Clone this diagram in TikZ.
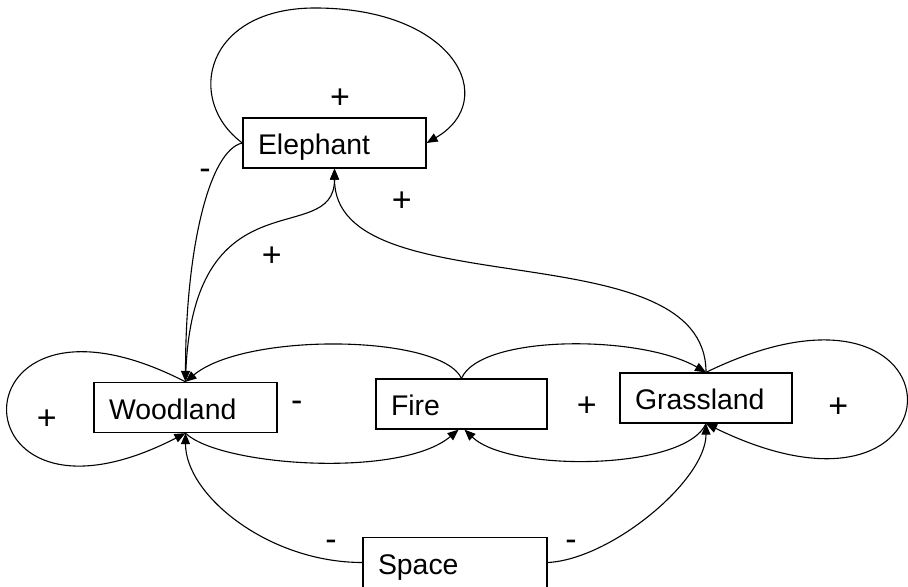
\documentclass[tikz,border=0pt]{standalone}
\usepackage{fontspec}
\setsansfont{Liberation Sans}
\usetikzlibrary{arrows.meta}

\tikzset{
  stock/.style={draw, line width=0.65pt, rectangle, minimum height=25pt,
    inner xsep=7.5pt, inner ysep=0pt, text height=13.5pt, text depth=2pt,
    align=left, text width=#1},
  link/.style={-{Triangle[length=5.5pt, width=4.5pt]}, line width=0.55pt},
  sign/.style={inner sep=0pt, font=\sffamily\fontsize{17}{20}\selectfont}
}

\begin{document}
\begin{tikzpicture}[x=0.5pt, y=-0.5pt,
    every node/.style={font=\sffamily\fontsize{14.2}{17}\selectfont}]
  \useasboundingbox (0,0) rectangle (908,587);

  % Nodes
  \node[stock=76.5pt] (eleph) at (334.5,143)   {Elephant};
  \node[stock=76.5pt] (wood)  at (185.5,407.5) {Woodland};
  \node[stock=70.5pt] (fire)  at (461.5,404)   {Fire};
  \node[stock=71pt]   (grass) at (706,398)     {Grassland};
  \node[stock=77pt]   (space) at (455,562.5)   {Space};
  \coordinate (etop) at (315,8);

  % Elephant loop
  \draw[link] (eleph.west) .. controls +(-58,-43) and +(-110,0) .. (etop)
    .. controls +(140,0) and +(74,-43) .. (eleph.east);
  \node[sign] (pE) at (340,99) {+};

  % Elephant and woodland
  \draw[link] (eleph.west) .. controls +(-33,7) and +(0,-133) .. (wood.north);
  \node[sign] (mEW) at (205,174) {-};
  \draw[link] (wood.north) .. controls +(4,-213) and +(0,82) .. (eleph.south);
  \node[sign] (pWE) at (271.7,257) {+};

  % Grassland to elephant
  \draw[link] (grass.north) .. controls +(0,-144) and +(0,140) .. (eleph.south);
  \node[sign] (pGE) at (401.7,201.3) {+};

  % Woodland loop
  \draw[link] (wood.north) .. controls +(-237,-122) and +(-237,122) .. (wood.south);
  \node[sign] (pW) at (46.7,419.3) {+};

  % Fire and woodland
  \draw[link] (fire.north) .. controls +(-21,-44) and +(60,-50) .. (wood.north);
  \draw[link] (wood.south) .. controls +(34,33) and +(-58,49) .. ([xshift=-1.5pt]fire.south);
  \node[sign] (mWF) at (296.7,406.3) {-};

  % Fire and grassland
  \draw[link] (fire.north) .. controls +(19,-44) and +(-66,-38) .. (grass.north);
  \draw[link] (grass.south) .. controls +(-21,47) and +(45,43) .. ([xshift=1.5pt]fire.south);
  \node[sign] (pFG) at (586.7,407) {+};

  % Grassland loop
  \draw[link] (grass.north) .. controls +(267,-130) and +(267,130) .. (grass.south);
  \node[sign] (pG) at (838.3,408) {+};

  % Space
  \draw[link] (space.west) .. controls +(-94,0) and +(0,62) .. (wood.south);
  \node[sign] (mSW) at (331,545.3) {-};
  \draw[link] (space.east) .. controls +(63,-3) and +(0,57) .. (grass.south);
  \node[sign] (mSG) at (571,545.3) {-};
\end{tikzpicture}
\end{document}
